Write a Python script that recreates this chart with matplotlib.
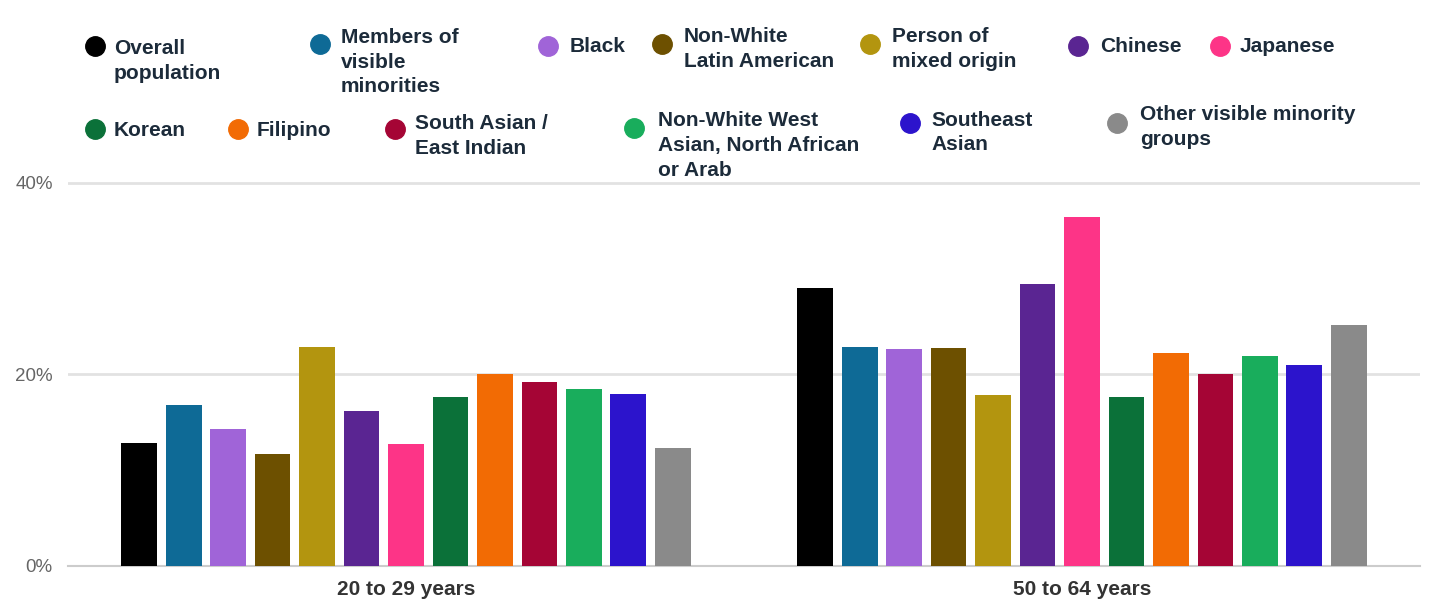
import matplotlib.pyplot as plt
from matplotlib.lines import Line2D
import numpy as np

plt.rcParams['font.family'] = ['Liberation Sans', 'DejaVu Sans']

age_groups = ['20 to 29 years', '50 to 64 years']
groups = ['Overall population', 'Members of visible minorities', 'Black',
          'Non-White Latin American', 'Person of mixed origin', 'Chinese',
          'Japanese', 'Korean', 'Filipino', 'South Asian / East Indian',
          'Non-White West Asian, North African or Arab', 'Southeast Asian',
          'Other visible minority groups']
share_20_29 = [12.8, 16.8, 14.3, 11.7, 22.9, 16.2, 12.7, 17.6, 20.1, 19.2, 18.5, 18.0, 12.3]
share_50_64 = [29.0, 22.9, 22.7, 22.8, 17.9, 29.5, 36.4, 17.6, 22.2, 20.0, 21.9, 21.0, 25.2]
colors = ['#000000', '#0e6a96', '#a064d8', '#6d5000', '#b3950f', '#5a2592',
          '#fd3487', '#0b7139', '#f26b04', '#a50535', '#19ad5c', '#2c14cc',
          '#8a8a8a']

# legend layout: wrapped label, marker x/y, text x, first/last line y (pixels from top)
legend_items = [
    ('Overall\npopulation', 95, 46, 114, 48, 74),
    ('Members of\nvisible\nminorities', 320, 44, 341, 36, 88),
    ('Black', 548, 46, 570, 47, 47),
    ('Non-White\nLatin American', 662, 44, 684, 36, 62),
    ('Person of\nmixed origin', 870, 44, 892, 36, 62),
    ('Chinese', 1078, 46, 1100, 47, 47),
    ('Japanese', 1220, 46, 1240, 47, 47),
    ('Korean', 95, 129, 114, 130, 130),
    ('Filipino', 238, 129, 257, 130, 130),
    ('South Asian /\nEast Indian', 395, 129, 415, 123, 149),
    ('Non-White West\nAsian, North African\nor Arab', 634, 128, 658, 120, 171),
    ('Southeast\nAsian', 910, 123, 931, 120, 145),
    ('Other visible minority\ngroups', 1117, 123, 1140, 114, 140),
]

W, H = 1444, 604
fig = plt.figure(figsize=(W / 100, H / 100), dpi=100)
ax = fig.add_axes([68 / W, 1 - 566 / H, 1352 / W, (566 - 178.2) / H])

values = np.array([share_20_29, share_50_64])
n = len(groups)
pitch = 0.0658
width = 0.053
x = np.arange(len(age_groups))
for i in range(n):
    offs = (i - (n - 1) / 2) * pitch
    ax.bar(x + offs, values[:, i], width=width, color=colors[i], zorder=3)

ax.set_xlim(-0.5, 1.5)
ax.set_ylim(0, 40.5)
ax.set_yticks([0, 20, 40])
ax.set_yticklabels(['0%', '20%', '40%'])
ax.set_xticks(x)
ax.set_xticklabels(age_groups, fontweight='bold', fontsize=15, color='#333333')
ax.tick_params(axis='x', length=0, pad=10)
ax.tick_params(axis='y', length=0, pad=11, labelsize=13.5, labelcolor='#666666')
ax.grid(axis='y', color='#e2e2e2', linewidth=2, zorder=0)
for s in ['top', 'right', 'left']:
    ax.spines[s].set_visible(False)
ax.spines['bottom'].set_color('#cccccc')
ax.spines['bottom'].set_linewidth(1.5)

for (label, mx, my, tx, y1, y2), c in zip(legend_items, colors):
    fig.add_artist(Line2D([mx / W], [1 - my / H], marker='o', markersize=14,
                          color=c, linestyle='none'))
    fig.text(tx / W, 1 - (y1 + y2) / 2 / H, label, fontsize=15, fontweight='bold',
             color='#1c2b3a', va='center', ha='left', linespacing=1.37)

fig.savefig('out.png', dpi=100, facecolor='white')
